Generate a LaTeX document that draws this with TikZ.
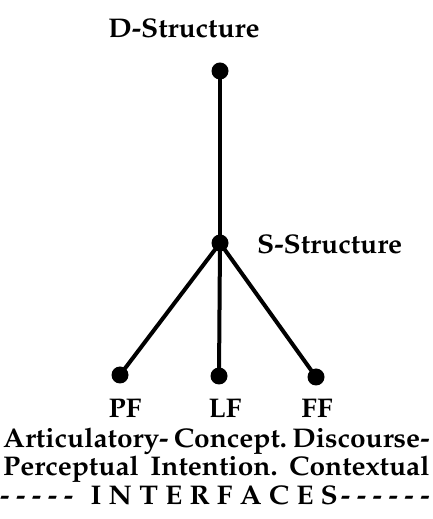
\documentclass[tikz,border=0pt]{standalone}
\usepackage[T1]{fontenc}
\usepackage{mathpazo}
\usepackage{tikz}
\usetikzlibrary{positioning}
\newcommand{\dashgap}{\hspace{6.3pt}}
\newcommand{\capgap}{\hspace{6.9pt}}
\tikzset{
  treedot/.style={circle, fill=black, inner sep=0pt, minimum size=17pt},
  branch/.style={line width=4pt, draw=black},
  levelname/.style={font=\fontsize{27}{29}\selectfont\bfseries, inner sep=0pt,
                    anchor=base, xscale=1.04},
  textrow/.style={levelname, anchor=base west},
}

\begin{document}
\begin{tikzpicture}[x=1pt, y=1pt]
\useasboundingbox (0,0) rectangle (432,519);

% ---------------- levels of the derivation ----------------
\node[treedot] (ds) at (220,448) {};
\node[treedot] (ss) at (220,276) {};
\node[treedot] (pf) at (120,144) {};
\node[treedot] (lf) at (219,143) {};
\node[treedot] (ff) at (316,142) {};

\draw[branch] (ds.center) -- (ss.center);
\draw[branch] (ss.center) -- (pf.center);
\draw[branch] (ss.center) -- (lf.center);
\draw[branch] (ss.center) -- (ff.center);

\node[levelname] (dslab) at (184,481) {D-Structure};
\node[levelname, anchor=base west] (sslab) at (257,265) {S-Structure};

% ---------------- interface levels ----------------
\node[levelname] (pflab) at (125,101) {PF};
\node[levelname] (lflab) at (225,101) {LF};
\node[levelname] (fflab) at (317,101) {FF};

% rows are set in boxes of 427pt/1.04 and 430pt/1.04
\node[textrow] (rowa) at (3,71)
  {\makebox[410pt][s]{Articulatory-\hfill Concept.\hfill Discourse-}};
\node[textrow] (rowb) at (3,43)
  {\makebox[410pt][s]{Perceptual\hfill Intention.\hfill Contextual}};
\node[textrow] (rowc) at (0,14)
  {\makebox[413pt][s]{-\dashgap-\dashgap-\dashgap-\dashgap-\hfill
   I\capgap N\capgap T\capgap E\capgap R\capgap F\capgap A\capgap C\capgap E\capgap S\hspace{3pt}%
   -\dashgap-\dashgap-\dashgap-\dashgap-\dashgap-}};
\end{tikzpicture}
\end{document}
